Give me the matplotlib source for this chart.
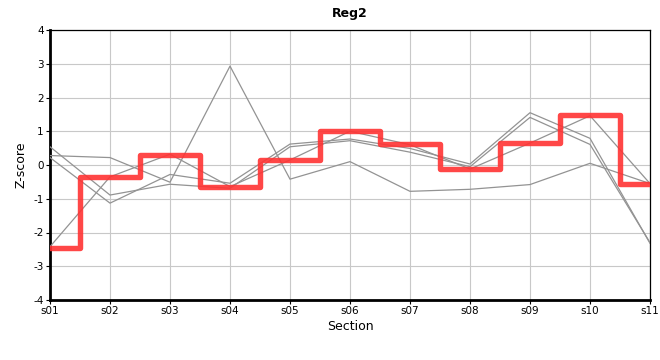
# Z-score profile for Reg2 across sections, with the reference step line.

import matplotlib
matplotlib.use("Agg")
import matplotlib.pyplot as plt
import numpy as np

plt.rcParams["axes.unicode_minus"] = False

sections = ["s01", "s02", "s03", "s04", "s05", "s06",
            "s07", "s08", "s09", "s10", "s11"]

# individual profiles (gray)
profile_a = [0.28, 0.22, -0.51, 2.93, -0.42, 0.10, -0.78, -0.72, -0.58, 0.05, -0.55]
profile_b = [0.54, -0.89, -0.57, -0.69, 0.54, 0.72, 0.38, -0.05, 1.41, 0.61, -2.30]
profile_c = [0.22, -1.13, -0.28, -0.54, 0.62, 0.77, 0.49, 0.03, 1.55, 0.79, -2.32]
profile_d = [-2.42, -0.35, 0.32, -0.64, 0.15, 1.00, 0.60, -0.12, 0.65, 1.46, -0.55]

# highlighted profile (red step)
reg2 = [-2.45, -0.35, 0.30, -0.65, 0.15, 1.00, 0.62, -0.12, 0.65, 1.48, -0.55]

x = np.arange(len(sections))

fig = plt.figure(figsize=(6.6, 3.6), dpi=100)
ax = fig.add_axes([50 / 660, 1 - 300 / 360, 600 / 660, 270 / 360])

for p in [profile_a, profile_b, profile_c, profile_d]:
    ax.plot(x, p, color="#939393", linewidth=0.9, zorder=3)

ax.plot(x, reg2, drawstyle="steps-mid", color="#ff3333", alpha=0.9,
        linewidth=3.9, solid_joinstyle="round", zorder=4)

ax.set_xlim(0, len(sections) - 1)
ax.set_ylim(-4, 4)
ax.set_xticks(x)
ax.set_xticklabels(sections)
ax.set_yticks(np.arange(-4, 5, 1))
ax.grid(True, color="#c8c8c8", linewidth=0.8, zorder=0)
ax.set_axisbelow(True)

ax.tick_params(labelsize=7.5, length=3, width=0.8, pad=1.5)
for side in ["top", "right"]:
    ax.spines[side].set_linewidth(0.9)
for side in ["left", "bottom"]:
    ax.spines[side].set_linewidth(2)

ax.set_title("Reg2", fontsize=9, fontweight="bold", pad=9)
ax.set_xlabel("Section", fontsize=9, labelpad=3)
ax.set_ylabel("Z-score", fontsize=9, labelpad=4)

fig.savefig("out.png", dpi=100)
